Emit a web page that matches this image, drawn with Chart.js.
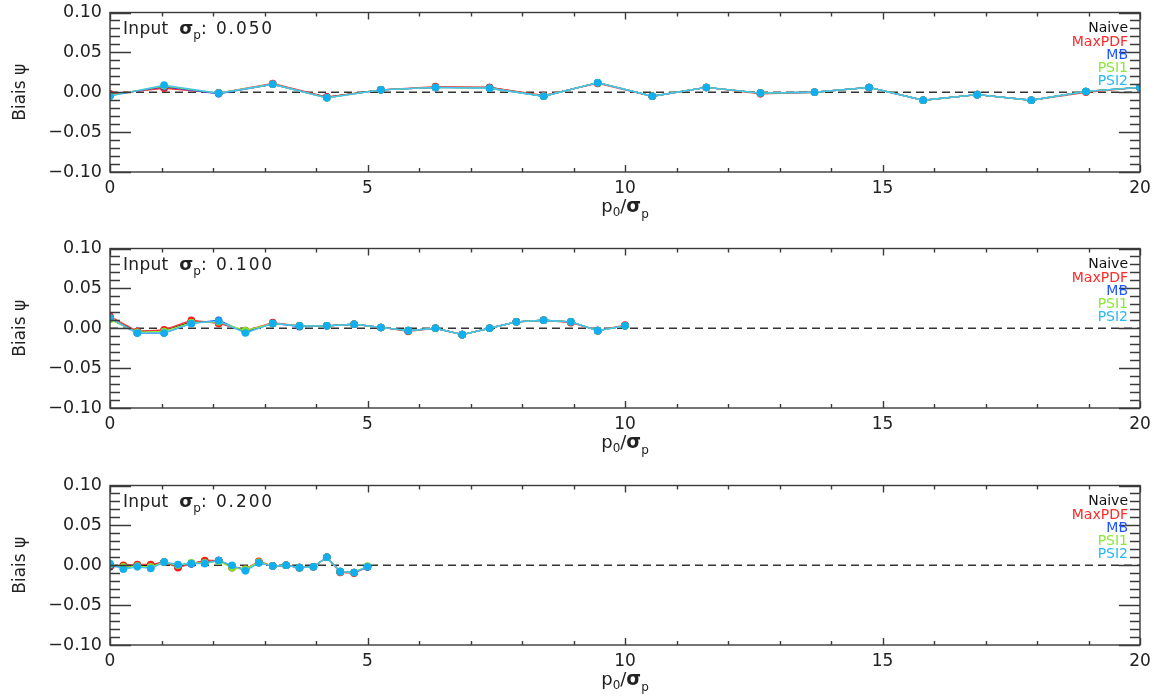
<!DOCTYPE html>
<html><head><meta charset="utf-8">
<script src="https://cdn.jsdelivr.net/npm/chart.js@4/dist/chart.umd.min.js"></script>
<style>
html,body{margin:0;padding:0;background:#fff;}
#wrap{position:relative;width:1154px;height:698px;overflow:hidden;}
.pc{position:absolute;left:0;width:1154px;height:236px;}
canvas{display:block;}
</style></head><body>
<div id="wrap">
<div class="pc" style="top:0px"><canvas id="c0" width="1154" height="236"></canvas></div>
<div class="pc" style="top:236px"><canvas id="c1" width="1154" height="236"></canvas></div>
<div class="pc" style="top:473px"><canvas id="c2" width="1154" height="236"></canvas></div>
</div>
<script>
// ---------- data ----------
const seriesNames = ['Naive', 'MaxPDF', 'MB', 'PSI1', 'PSI2'];
const inputSigmas = ['0.050', '0.100', '0.200'];
const xTicks = [0, 5, 10, 15, 20];
const yTicks = [-0.10, -0.05, 0.00, 0.05, 0.10];
const yTitle = 'Biais \u03c8';

// panel 1 (sigma_p = 0.050)
const x1 = [0, 1.05, 2.11, 3.16, 4.21, 5.26, 6.32, 7.37, 8.42, 9.47, 10.53, 11.58, 12.63, 13.68, 14.74, 15.79, 16.84, 17.89, 18.95, 20];
const p1Naive  = [-0.003, 0.006, -0.001, 0.010, -0.006, 0.003, 0.006, 0.006, -0.005, 0.012, -0.005, 0.006, -0.001, 0.000, 0.006, -0.010, -0.003, -0.010, 0.001, 0.006];
const p1MaxPDF = [-0.002, 0.005, -0.001, 0.011, -0.006, 0.003, 0.007, 0.006, -0.004, 0.011, -0.005, 0.006, -0.002, 0.000, 0.006, -0.010, -0.003, -0.010, 0.000, 0.006];
const p1MB     = [-0.004, 0.007, -0.002, 0.010, -0.007, 0.003, 0.006, 0.005, -0.005, 0.012, -0.005, 0.006, -0.001, 0.000, 0.006, -0.010, -0.003, -0.010, 0.001, 0.006];
const p1PSI1   = [-0.004, 0.008, -0.001, 0.010, -0.007, 0.003, 0.006, 0.005, -0.005, 0.012, -0.005, 0.006, -0.001, 0.000, 0.006, -0.010, -0.003, -0.010, 0.001, 0.006];
const p1PSI2   = [-0.005, 0.009, -0.001, 0.010, -0.007, 0.003, 0.006, 0.005, -0.005, 0.012, -0.005, 0.006, -0.001, 0.000, 0.006, -0.010, -0.003, -0.010, 0.001, 0.006];

// panel 2 (sigma_p = 0.100)
const x2 = [0, 0.53, 1.05, 1.58, 2.11, 2.63, 3.16, 3.68, 4.21, 4.74, 5.26, 5.79, 6.32, 6.84, 7.37, 7.89, 8.42, 8.95, 9.47, 10];
const p2Naive  = [0.012, -0.004, -0.003, 0.008, 0.007, -0.004, 0.006, 0.003, 0.003, 0.005, 0.001, -0.003, 0.000, -0.008, 0.000, 0.008, 0.010, 0.008, -0.003, 0.003];
const p2MaxPDF = [0.015, -0.004, -0.002, 0.010, 0.006, -0.003, 0.007, 0.003, 0.003, 0.005, 0.001, -0.004, 0.000, -0.008, 0.000, 0.008, 0.010, 0.007, -0.003, 0.004];
const p2MB     = [0.012, -0.006, -0.006, 0.006, 0.010, -0.005, 0.006, 0.002, 0.003, 0.005, 0.001, -0.003, 0.000, -0.008, 0.000, 0.008, 0.010, 0.008, -0.003, 0.003];
const p2PSI1   = [0.011, -0.005, -0.004, 0.007, 0.008, -0.003, 0.006, 0.003, 0.003, 0.005, 0.001, -0.003, 0.000, -0.008, 0.000, 0.008, 0.010, 0.008, -0.003, 0.003];
const p2PSI2   = [0.013, -0.006, -0.006, 0.006, 0.009, -0.006, 0.006, 0.003, 0.003, 0.005, 0.001, -0.003, 0.000, -0.008, 0.000, 0.008, 0.010, 0.008, -0.003, 0.003];

// panel 3 (sigma_p = 0.200)
const x3 = [0, 0.26, 0.53, 0.79, 1.05, 1.32, 1.58, 1.84, 2.11, 2.37, 2.63, 2.89, 3.16, 3.42, 3.68, 3.95, 4.21, 4.47, 4.74, 5];
const p3Naive  = [-0.002, -0.001, 0.000, 0.000, 0.004, -0.002, 0.002, 0.005, 0.006, -0.002, -0.005, 0.004, -0.001, 0.000, -0.003, -0.002, 0.010, -0.008, -0.009, -0.002];
const p3MaxPDF = [-0.001, 0.000, 0.001, 0.001, 0.004, -0.003, 0.002, 0.006, 0.006, -0.003, -0.005, 0.005, -0.001, 0.000, -0.003, -0.002, 0.010, -0.009, -0.010, -0.002];
const p3MB     = [0.000, -0.003, -0.001, -0.003, 0.004, 0.000, 0.002, 0.003, 0.006, -0.001, -0.006, 0.003, -0.001, 0.000, -0.003, -0.002, 0.010, -0.008, -0.009, -0.002];
const p3PSI1   = [0.001, -0.002, -0.001, -0.002, 0.004, 0.000, 0.003, 0.003, 0.005, -0.003, -0.005, 0.004, -0.001, 0.000, -0.003, -0.002, 0.010, -0.008, -0.009, -0.001];
const p3PSI2   = [0.002, -0.005, -0.002, -0.004, 0.004, 0.001, 0.002, 0.002, 0.006, 0.000, -0.007, 0.003, -0.001, 0.000, -0.003, -0.002, 0.010, -0.008, -0.009, -0.002];

// ---------- styles ----------
const lineColors  = ['#111111', '#ff3a3a', '#2a5cff', '#8fe83c', '#45c3f5'];
const pointColors = ['#111111', '#ff1a1a', '#1f4fff', '#7fe02a', '#12aff0'];
const textColors  = ['#111111', '#ff2a2a', '#1f55ff', '#8ce838', '#2ab8f5'];
const FONT = 'DejaVu Sans';
const AXIS = '#3a3a3a';

function drawRich(ctx, parts, x, y, align) {
  // parts: [text, sizePx, bold, dy, letterSpacing]
  let total = 0;
  const widths = parts.map(p => {
    ctx.font = (p[2] ? 'bold ' : '') + p[1] + 'px "' + FONT + '"';
    ctx.letterSpacing = (p[4] || 0) + 'px';
    const w = ctx.measureText(p[0]).width;
    total += w; return w;
  });
  let cx = align === 'center' ? x - total / 2 : x;
  ctx.textAlign = 'left'; ctx.textBaseline = 'alphabetic';
  parts.forEach((p, i) => {
    ctx.font = (p[2] ? 'bold ' : '') + p[1] + 'px "' + FONT + '"';
    ctx.letterSpacing = (p[4] || 0) + 'px';
    ctx.fillText(p[0], cx, y + (p[3] || 0));
    cx += widths[i];
  });
  ctx.letterSpacing = '0px';
}

const framePlugin = {
  id: 'frame',
  afterDatasetsDraw(chart) {
    const ctx = chart.ctx, a = chart.chartArea;
    const xs = chart.scales.x, ys = chart.scales.y;
    ctx.save();
    ctx.strokeStyle = AXIS; ctx.lineWidth = 1.4;
    ctx.strokeRect(a.left, a.top, a.right - a.left, a.bottom - a.top);
    ctx.beginPath();
    for (let k = -10; k <= 10; k++) {
      const v = k / 100, py = Math.round(ys.getPixelForValue(v)) + 0.5;
      const len = (k % 5 === 0) ? 21 : 10;
      ctx.moveTo(a.left, py); ctx.lineTo(a.left + len, py);
      ctx.moveTo(a.right, py); ctx.lineTo(a.right - len, py);
    }
    for (let v = 0; v <= 20; v++) {
      const px = Math.round(xs.getPixelForValue(v)) + 0.5;
      const len = (v % 5 === 0) ? 7 : 4;
      ctx.moveTo(px, a.bottom); ctx.lineTo(px, a.bottom - len);
      ctx.moveTo(px, a.top); ctx.lineTo(px, a.top + len);
    }
    ctx.stroke();
    const o = chart.options.plugins.frame;
    ctx.fillStyle = '#222';
    // annotation "Input sigma_p: value"
    drawRich(ctx, [['Input', 17, false, 0, 0.3], ['  ', 17, false, 0], ['\u03c3', 18, true, 0], ['p', 12, false, 5], [': ' + o.sigma, 17, false, 0, 1.9]],
             a.left + 13, a.top + 21, 'left');
    // x-axis title p0/sigma_p
    const cxm = (a.left + a.right) / 2;
    drawRich(ctx, [['p', 18, false, 0], ['0', 12, false, 4], ['/', 18, false, 0], ['\u03c3', 19, true, 0], ['p', 12, false, 6]],
             cxm, a.bottom + 40, 'center');
    // legend
    ctx.font = '14px "' + FONT + '"';
    ctx.textAlign = 'right'; ctx.textBaseline = 'middle';
    const offs = [16, 29.5, 42.5, 56, 69];
    seriesNames.forEach((n, k) => {
      ctx.fillStyle = textColors[k];
      ctx.fillText(n, a.right - 12, a.top + offs[k]);
    });
    ctx.restore();
  }
};

function makeChart(id, xs, series, sigma) {
  const datasets = seriesNames.map((name, k) => ({
    label: name,
    data: xs.map((x, i) => ({x: x, y: series[k][i]})),
    showLine: true,
    borderColor: lineColors[k],
    backgroundColor: pointColors[k],
    pointBackgroundColor: pointColors[k],
    borderWidth: 1.3,
    pointRadius: 3.8,
    pointBorderWidth: 0,
    pointHoverRadius: 0,
    tension: 0,
    order: 5 - k
  }));
  datasets.push({
    label: 'zero',
    data: [{x: xTicks[0], y: 0}, {x: xTicks[xTicks.length - 1], y: 0}],
    showLine: true, borderColor: '#333', borderWidth: 1.5, borderDash: [8, 5],
    pointRadius: 0, order: 20
  });
  return new Chart(document.getElementById(id), {
    type: 'scatter',
    data: {datasets},
    plugins: [framePlugin],
    options: {
      responsive: false, animation: false, events: [],
      layout: {padding: {top: 12.5, right: 14, left: 0, bottom: 0}},
      plugins: {legend: {display: false}, tooltip: {enabled: false}, frame: {sigma: sigma}},
      scales: {
        x: {
          type: 'linear', min: 0, max: 20,
          grid: {display: false, drawTicks: false}, border: {display: false},
          afterBuildTicks: s => { s.ticks = xTicks.map(v => ({value: v})); },
          afterFit: s => { s.height = 64; s.paddingLeft = 0; s.paddingRight = 0; },
          ticks: {padding: 6, color: '#222', font: {family: FONT, size: 17}, maxRotation: 0, autoSkip: false,
                  callback: v => String(v)},
          title: {display: false}
        },
        y: {
          type: 'linear', min: -0.1, max: 0.1,
          grid: {display: false, drawTicks: false}, border: {display: false},
          afterBuildTicks: s => { s.ticks = yTicks.map(v => ({value: v})); },
          afterFit: s => { s.width = 110; s.paddingTop = 0; s.paddingBottom = 0; },
          ticks: {padding: 8, color: '#222', font: {family: FONT, size: 17.5}, autoSkip: false,
                  callback: v => (Math.abs(v) < 1e-9 ? '0.00' : v.toFixed(2)).replace('-', '\u2212')},
          title: {display: true, text: yTitle, color: '#222', font: {family: FONT, size: 17}, padding: {top: 10, bottom: 0}}
        }
      }
    }
  });
}

makeChart('c0', x1, [p1Naive, p1MaxPDF, p1MB, p1PSI1, p1PSI2], inputSigmas[0]);
makeChart('c1', x2, [p2Naive, p2MaxPDF, p2MB, p2PSI1, p2PSI2], inputSigmas[1]);
makeChart('c2', x3, [p3Naive, p3MaxPDF, p3MB, p3PSI1, p3PSI2], inputSigmas[2]);
</script>
</body></html>
